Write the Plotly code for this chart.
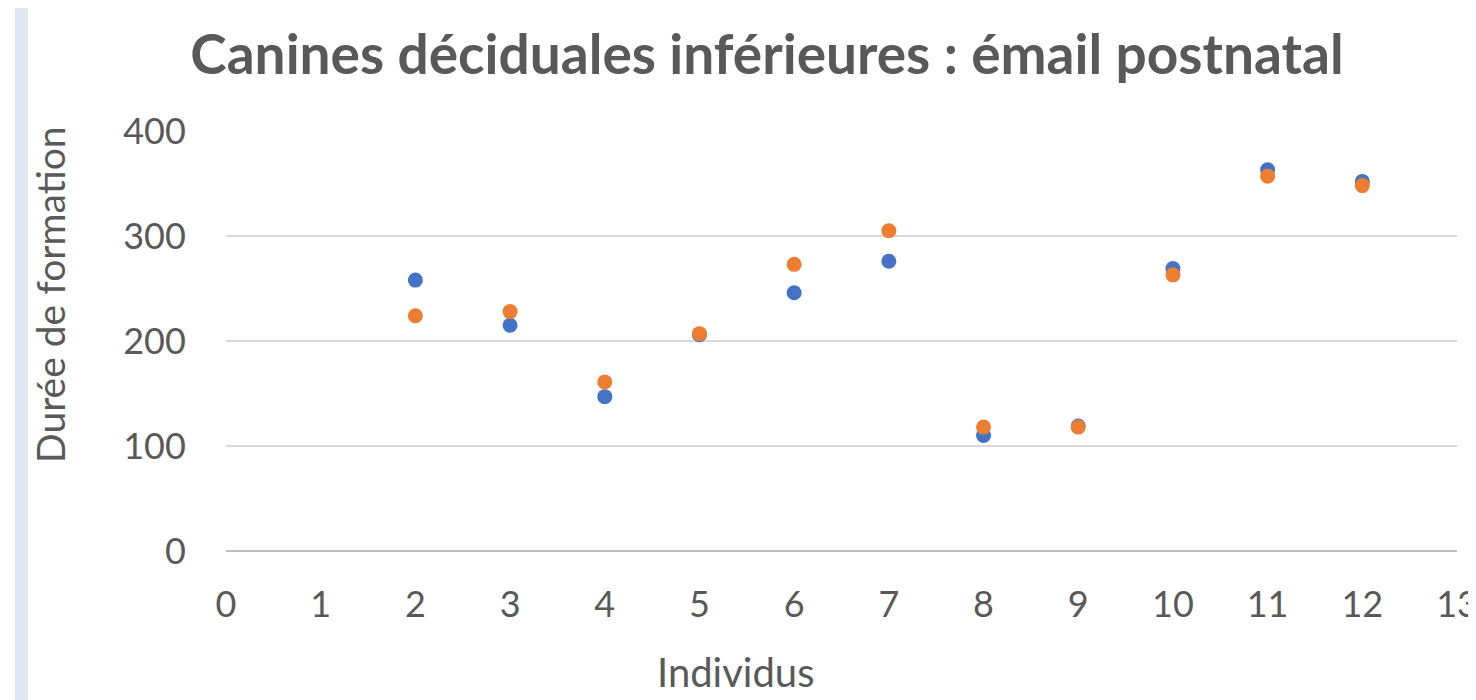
import plotly.graph_objects as go

individus = [2, 3, 4, 5, 6, 7, 8, 9, 10, 11, 12]
serie_bleue = [258, 215, 147, 206, 246, 276, 110, 119, 269, 363, 352]
serie_orange = [224, 228, 161, 207, 273, 305, 118, 118, 263, 357, 348]

x_ticks = list(range(0, 14))
y_ticks = [0, 100, 200, 300, 400]

FONT = "Lato"
GREY = "#595959"

fig = go.Figure()
fig.add_trace(go.Scatter(x=individus, y=serie_bleue, mode="markers",
                         marker=dict(color="#4472C4", size=15), name="Série 1"))
fig.add_trace(go.Scatter(x=individus, y=serie_orange, mode="markers",
                         marker=dict(color="#ED7D31", size=15), name="Série 2"))

# light stripe at the left edge of the slide
fig.add_shape(type="rect", xref="paper", yref="paper",
              x0=-211 / 1231, x1=-198 / 1231, y0=-160 / 420, y1=1 + 135 / 420,
              fillcolor="#e2e6f2", line_width=0, layer="below")

# axis titles sit off-centre in the original, so place them as annotations
fig.add_annotation(text="Individus", xref="paper", yref="paper",
                   x=0.414, y=-0.289, xanchor="center", yanchor="middle",
                   showarrow=False, font=dict(size=40, color=GREY, family=FONT))
fig.add_annotation(text="Durée de formation", xref="paper", yref="paper",
                   x=-0.143, y=0.612, xanchor="center", yanchor="middle",
                   textangle=-90, showarrow=False,
                   font=dict(size=39, color=GREY, family=FONT))

fig.update_layout(
    width=1468, height=692,
    margin=dict(l=218, r=19, t=123, b=149),
    paper_bgcolor="white", plot_bgcolor="white",
    showlegend=False,
    font=dict(family=FONT, color=GREY, size=36),
    title=dict(text="<b>Canines déciduales inférieures : émail postnatal</b>",
               x=0.517, xanchor="center", y=0.932, yanchor="middle",
               font=dict(size=55, color=GREY, family=FONT)),
    xaxis=dict(range=[0, 13], tickvals=x_ticks, showgrid=False, zeroline=False,
               showline=False, ticks="outside", ticklen=22, tickcolor="rgba(0,0,0,0)",
               automargin=False, ticklabeloverflow="allow",
               tickfont=dict(size=36, color=GREY)),
    yaxis=dict(range=[0, 400], tickvals=y_ticks, showgrid=True, gridcolor="#d9d9d9",
               gridwidth=1.5, zeroline=True, zerolinecolor="#bfbfbf", zerolinewidth=1.5,
               showline=False, ticks="outside", ticklen=32, tickcolor="rgba(0,0,0,0)",
               automargin=False, tickfont=dict(size=36, color=GREY)),
)

fig.write_html("out.html")
